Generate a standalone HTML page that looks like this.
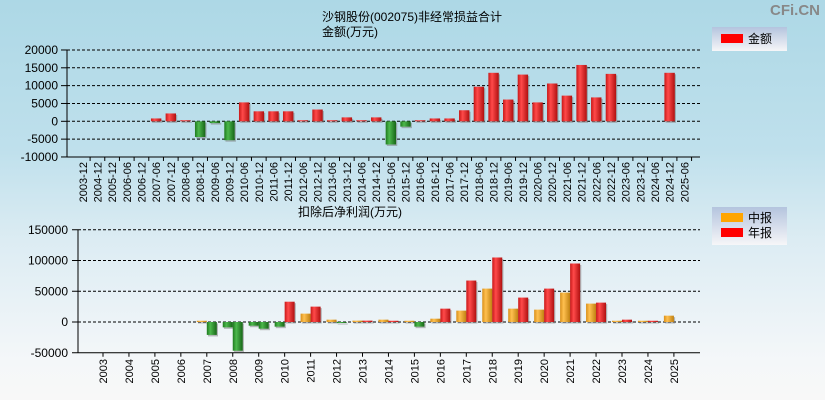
<!DOCTYPE html>
<html><head><meta charset="utf-8"><style>
body{margin:0;}
#wrap{width:825px;height:400px;position:relative;overflow:hidden;background:linear-gradient(#add8e6 0px,#bfe0ec 150px,#dcecf3 240px,#f4f7f9 360px,#f8f8f8 400px);font-family:"Liberation Sans","Noto Sans CJK SC",sans-serif;}
svg{position:absolute;left:0;top:0;}
text{font-family:"Liberation Sans","Noto Sans CJK SC",sans-serif;}
</style></head><body>
<div id="wrap">
<svg id="svg" width="825" height="400">
<defs>
<linearGradient id="gr" x1="0" x2="1"><stop offset="0" stop-color="#c81818"/><stop offset="0.35" stop-color="#ff4a4a"/><stop offset="1" stop-color="#b01010"/></linearGradient>
<linearGradient id="gg" x1="0" x2="1"><stop offset="0" stop-color="#1e7a1e"/><stop offset="0.35" stop-color="#4cb84c"/><stop offset="1" stop-color="#176617"/></linearGradient>
<linearGradient id="go" x1="0" x2="1"><stop offset="0" stop-color="#d9901a"/><stop offset="0.35" stop-color="#ffc050"/><stop offset="1" stop-color="#c08010"/></linearGradient>
<linearGradient id="lg" x1="0" y1="0" x2="0" y2="1"><stop offset="0" stop-color="#b4c4de"/><stop offset="1" stop-color="#f6f6f8"/></linearGradient>
</defs>
<text x="412" y="21" font-size="12" text-anchor="middle">沙钢股份(002075)非经常损益合计</text>
<text x="350" y="36" font-size="12" text-anchor="middle">金额(万元)</text>
<text x="820" y="15" font-size="15" font-weight="bold" fill="#888" text-anchor="end">CFi.CN</text>
<text x="350" y="216" font-size="12" text-anchor="middle">扣除后净利润(万元)</text>
<rect x="712" y="27" width="75" height="24" fill="url(#lg)"/>
<rect x="721" y="34" width="22" height="9" fill="#ff0000"/>
<text x="748" y="43" font-size="12">金额</text>
<rect x="712" y="207" width="75" height="38" fill="url(#lg)"/>
<rect x="721" y="213" width="22" height="9" fill="#ffa500"/>
<text x="748" y="222" font-size="12">中报</text>
<rect x="721" y="228" width="22" height="9" fill="#ff0000"/>
<text x="748" y="237" font-size="12">年报</text>
<g id="g1"></g><g id="g2"></g>
</svg></div>
<script>
const topCats=["2003-12","2004-12","2005-12","2006-06","2006-12","2007-06","2007-12","2008-06","2008-12","2009-06","2009-12","2010-06","2010-12","2011-06","2011-12","2012-06","2012-12","2013-06","2013-12","2014-06","2014-12","2015-06","2015-12","2016-06","2016-12","2017-06","2017-12","2018-06","2018-12","2019-06","2019-12","2020-06","2020-12","2021-06","2021-12","2022-06","2022-12","2023-06","2023-12","2024-06","2024-12","2025-06"];
const topVals=[0,0,0,0,0,800,2200,300,-4400,-500,-5300,5300,2800,2800,2800,300,3300,300,1100,300,1100,-6500,-1500,300,800,800,3100,9700,13600,6100,13100,5300,10600,7200,15800,6700,13300,0,0,0,13600,0];
const topTicks=[20000,15000,10000,5000,0,-5000,-10000];
const botCats=["2003","2004","2005","2006","2007","2008","2009","2010","2011","2012","2013","2014","2015","2016","2017","2018","2019","2020","2021","2022","2023","2024","2025"];
const interimVals=[null,null,null,null,2000,-8700,-6000,-7600,13600,3800,2200,3800,2000,5400,18500,54300,21700,20100,47800,29900,2000,2000,10300];
const annualVals=[null,null,null,null,-21000,-46700,-10900,33000,25000,-1600,2200,2000,-7600,21700,67400,104900,39700,54300,95100,31500,3800,2000,null];
const botTicks=[150000,100000,50000,0,-50000];

const NS="http://www.w3.org/2000/svg";
function mk(p,t,a){const e=document.createElementNS(NS,t);for(const k in a)e.setAttribute(k,a[k]);p.appendChild(e);return e;}
const g1=document.getElementById('g1'),g2=document.getElementById('g2');
// top chart
const y1=v=>121.3-(v/5000)*17.83;
const x1=i=>82.8+i*14.67;
topTicks.forEach(t=>{
 const l=mk(g1,'line',{x1:67,x2:700,y1:y1(t),y2:y1(t),stroke:'#000','stroke-dasharray':'3,2','stroke-width':1});
 
 
 const tx=mk(g1,'text',{x:58,y:y1(t)+4,'font-size':12,'text-anchor':'end'});tx.textContent=t;
 
 
 mk(g1,'line',{x1:61,x2:67,y1:y1(t),y2:y1(t),stroke:'#000'});
});
mk(g1,'line',{x1:67,x2:67,y1:y1(20000),y2:y1(-10000),stroke:'#000'});
mk(g1,'line',{x1:67,x2:700,y1:y1(-10000),y2:y1(-10000),stroke:'#000'});
topCats.forEach((c,i)=>{
 const x=x1(i),v=topVals[i];
 mk(g1,'line',{x1:x+7.3,x2:x+7.3,y1:y1(-10000),y2:y1(-10000)+4,stroke:'#000'});
 const tx=mk(g1,'text',{x:0,y:0,'font-size':11,'text-anchor':'end',transform:`translate(${x+4},${162}) rotate(-90)`});tx.textContent=c;
 
 
 if(v){const top=Math.min(y1(v),y1(0)),h=Math.abs(y1(v)-y1(0));
  mk(g1,'rect',{x:x-4,y:top+1.5,width:10.4,height:h,fill:'#777',opacity:0.5});
  const r=mk(g1,'rect',{x:x-5.2,y:top,width:10.4,height:h,fill:v>0?'url(#gr)':'url(#gg)'});
  
  }
});
// bottom chart
const y2=v=>322-(v/50000)*30.75;
const x2=i=>103+i*25.95;
botTicks.forEach(t=>{
 if(t!==-50000){const l=mk(g2,'line',{x1:78,x2:700,y1:y2(t),y2:y2(t),stroke:'#000','stroke-dasharray':'3,2','stroke-width':1});
 
 }
 const tx=mk(g2,'text',{x:68,y:y2(t)+4,'font-size':12,'text-anchor':'end'});tx.textContent=t;
 
 
 mk(g2,'line',{x1:72,x2:78,y1:y2(t),y2:y2(t),stroke:'#000'});
});
mk(g2,'line',{x1:78,x2:78,y1:y2(150000),y2:y2(-50000),stroke:'#000'});
mk(g2,'line',{x1:78,x2:700,y1:y2(-50000),y2:y2(-50000),stroke:'#000'});
function bar(x,v,pos){if(v===null||v===undefined)return;
 const top=Math.min(y2(v),y2(0)),h=Math.max(1,Math.abs(y2(v)-y2(0)));
 mk(g2,'rect',{x:x+1.2,y:top+1.5,width:10,height:h,fill:'#777',opacity:0.5});
 const r=mk(g2,'rect',{x:x,y:top,width:10,height:h,fill:v<0?'url(#gg)':pos});
 
 }
botCats.forEach((c,i)=>{
 const x=x2(i);
 mk(g2,'line',{x1:x,x2:x,y1:y2(-50000),y2:y2(-50000)+4,stroke:'#000'});
 const tx=mk(g2,'text',{x:0,y:0,'font-size':11,'text-anchor':'end',transform:`translate(${x+4},${359}) rotate(-90)`});tx.textContent=c;
 
 
 bar(x-10,interimVals[i],'url(#go)');
 bar(x,annualVals[i],'url(#gr)');
});
</script>
</body></html>
